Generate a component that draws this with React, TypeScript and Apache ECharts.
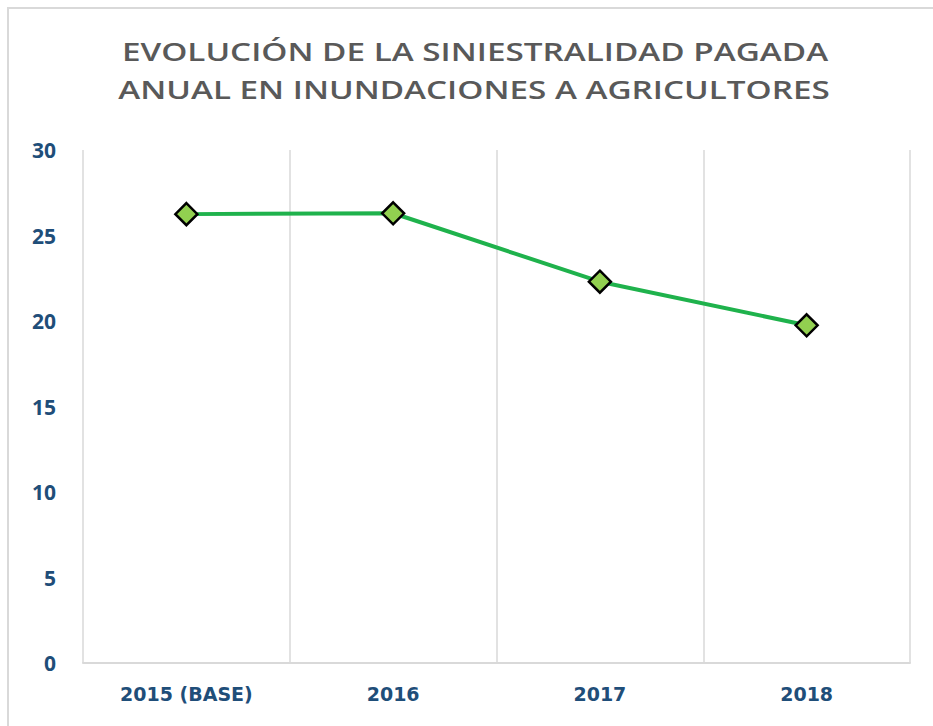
import React, { useEffect, useRef } from "react";
import * as echarts from "echarts";

const titleLines = [
  "EVOLUCIÓN DE LA SINIESTRALIDAD PAGADA",
  "ANUAL EN INUNDACIONES A AGRICULTORES",
];
const categories = ["2015 (BASE)", "2016", "2017", "2018"];
const values = [26.25, 26.3, 22.3, 19.75];
const yMin = 0;
const yMax = 30;
const yInterval = 5;

export default function App() {
  const ref = useRef<HTMLDivElement>(null);
  useEffect(() => {
    if (!ref.current) return;
    const chart = echarts.init(ref.current, null, { renderer: "svg" });
    chart.setOption({
      animation: false,
      backgroundColor: "#ffffff",
      graphic: [
        {
          type: "polyline",
          shape: { points: [[8, 726], [8, 8], [933, 8]] },
          style: { stroke: "#d9d9d9", lineWidth: 2, fill: "none" },
          silent: true,
        },
        {
          type: "text",
          x: 475,
          y: 52,
          scaleX: 1.33,
          style: {
            text: titleLines[0],
            font: "600 25px 'Open Sans'",
            fill: "#595959",
            align: "center",
            verticalAlign: "middle",
          },
        },
        {
          type: "text",
          x: 474,
          y: 90,
          scaleX: 1.33,
          style: {
            text: titleLines[1],
            font: "600 25px 'Open Sans'",
            fill: "#595959",
            align: "center",
            verticalAlign: "middle",
          },
        },
      ],
      grid: { left: 83, right: 23, top: 150, bottom: 63, containLabel: false },
      xAxis: {
        type: "category",
        data: categories,
        boundaryGap: true,
        axisLine: { show: true, lineStyle: { color: "#d9d9d9", width: 2 } },
        axisTick: { show: false },
        splitLine: { show: true, lineStyle: { color: "#d9d9d9", width: 1.5 } },
        axisLabel: {
          color: "#1f4e79",
          fontFamily: "'DejaVu Sans'",
          fontWeight: "bold",
          fontSize: 19,
          margin: 21,
        },
      },
      yAxis: {
        type: "value",
        min: yMin,
        max: yMax,
        interval: yInterval,
        axisLine: { show: false },
        axisTick: { show: false },
        splitLine: { show: false },
        axisLabel: {
          color: "#1f4e79",
          fontFamily: "'Open Sans'",
          fontWeight: "bold",
          fontSize: 21,
          margin: 27,
        },
      },
      series: [
        {
          type: "line",
          data: values,
          symbol: "diamond",
          symbolSize: 22,
          lineStyle: { color: "#1fb24c", width: 4 },
          itemStyle: { color: "#92d050", borderColor: "#000000", borderWidth: 2.5 },
        },
      ],
    });
    return () => chart.dispose();
  }, []);
  return <div ref={ref} style={{ width: 933, height: 726, position: "absolute", left: 0, top: 0 }} />;
}
